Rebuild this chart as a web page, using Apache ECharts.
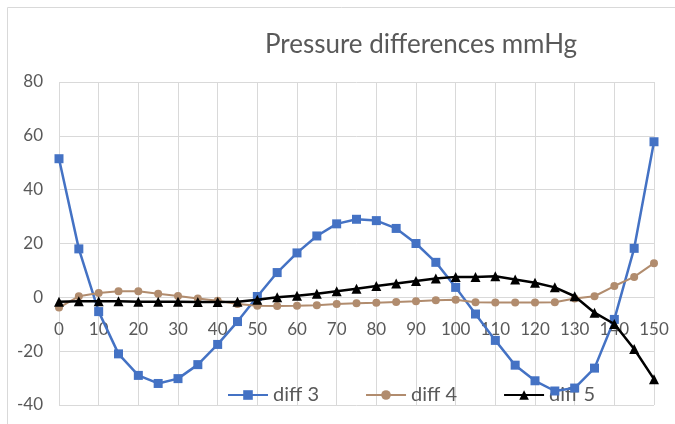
<!DOCTYPE html>
<html>
<head>
<meta charset="utf-8">
<script src="https://cdn.jsdelivr.net/npm/echarts@6/dist/echarts.min.js"></script>
<style>
  html, body { margin: 0; padding: 0; background: #fff; }
  #chart { width: 675px; height: 424px; }
</style>
</head>
<body>
<div id="chart"></div>
<script>
// x categories 0..150 step 5
const categories = ['0','5','10','15','20','25','30','35','40','45','50','55','60','65','70','75',
  '80','85','90','95','100','105','110','115','120','125','130','135','140','145','150'];

const diff3 = [51.5, 18, -5.3, -21, -29, -32, -30.2, -25, -17.5, -9, 0.3, 9.2, 16.5, 22.8, 27.3, 29,
  28.5, 25.6, 20, 13, 3.7, -6.2, -16, -25.2, -31, -34.8, -33.7, -26.3, -8.2, 18.2, 57.8];
const diff4 = [-3.8, 0.4, 1.6, 2.3, 2.3, 1.3, 0.5, -0.4, -1.3, -2.5, -3.1, -3.2, -3.1, -2.9, -2.5, -2.2,
  -2, -1.7, -1.5, -1.1, -0.9, -1.8, -1.9, -1.9, -1.9, -1.8, -0.4, 0.4, 4.2, 7.6, 12.7];
const diff5 = [-1.6, -1.5, -1.5, -1.5, -1.6, -1.6, -1.6, -1.7, -1.7, -1.6, -0.9, 0, 0.6, 1.3, 2.3, 3.2,
  4.2, 5.1, 6.1, 7, 7.6, 7.6, 7.8, 6.6, 5.4, 3.7, 0.4, -5.7, -9.9, -19.2, -30.4];

const myChart = echarts.init(document.getElementById('chart'));
const gridColor = '#d9d9d9';
const textColor = '#595959';
const fontFamily = 'Lato, "Open Sans", sans-serif';
// plot area: y -40..80 over 323px, zero line sits 108px above the bottom edge
const zeroOffset = -108;

myChart.setOption({
  animation: false,
  title: {
    text: 'Pressure differences mmHg',
    left: 416,
    top: 27,
    textAlign: 'center',
    textStyle: { color: textColor, fontSize: 26, fontWeight: 'normal', fontFamily: fontFamily }
  },
  legend: {
    z: 0,
    left: 222,
    top: 380,
    itemWidth: 40,
    itemHeight: 12,
    itemGap: 46,
    textStyle: { color: textColor, fontSize: 20, fontFamily: fontFamily },
    data: ['diff 3', 'diff 4', 'diff 5']
  },
  grid: { left: 59, right: 21, top: 82, bottom: 19 },
  graphic: [{
    type: 'rect',
    shape: { x: 7.5, y: 7.5, width: 700, height: 440 },
    style: { fill: 'none', stroke: gridColor, lineWidth: 1 },
    silent: true
  }],
  xAxis: {
    type: 'category',
    boundaryGap: false,
    data: categories,
    position: 'bottom',
    offset: zeroOffset,
    axisLine: { onZero: false, lineStyle: { color: gridColor } },
    axisTick: { show: false },
    axisLabel: { interval: 1, margin: 24, color: textColor, fontSize: 17, fontFamily: fontFamily },
    splitLine: { show: true, interval: 1, lineStyle: { color: gridColor } }
  },
  yAxis: {
    type: 'value',
    min: -40,
    max: 80,
    interval: 20,
    axisLine: { show: false },
    axisTick: { show: false },
    axisLabel: { margin: 16, color: textColor, fontSize: 17, fontFamily: fontFamily },
    splitLine: { lineStyle: { color: gridColor } }
  },
  series: [
    {
      name: 'diff 3', type: 'line', data: diff3, z: 3,
      symbol: 'rect', symbolSize: 9,
      lineStyle: { color: '#4472C4', width: 2.5 },
      itemStyle: { color: '#4472C4' }
    },
    {
      name: 'diff 4', type: 'line', data: diff4, z: 4,
      symbol: 'circle', symbolSize: 8,
      lineStyle: { color: '#B18C6E', width: 2 },
      itemStyle: { color: '#B18C6E' }
    },
    {
      name: 'diff 5', type: 'line', data: diff5, z: 5,
      symbol: 'triangle', symbolSize: 10,
      lineStyle: { color: '#000000', width: 2.5 },
      itemStyle: { color: '#000000' }
    }
  ]
});

window.onresize = function () {
  myChart.resize();
};
</script>
</body>
</html>
